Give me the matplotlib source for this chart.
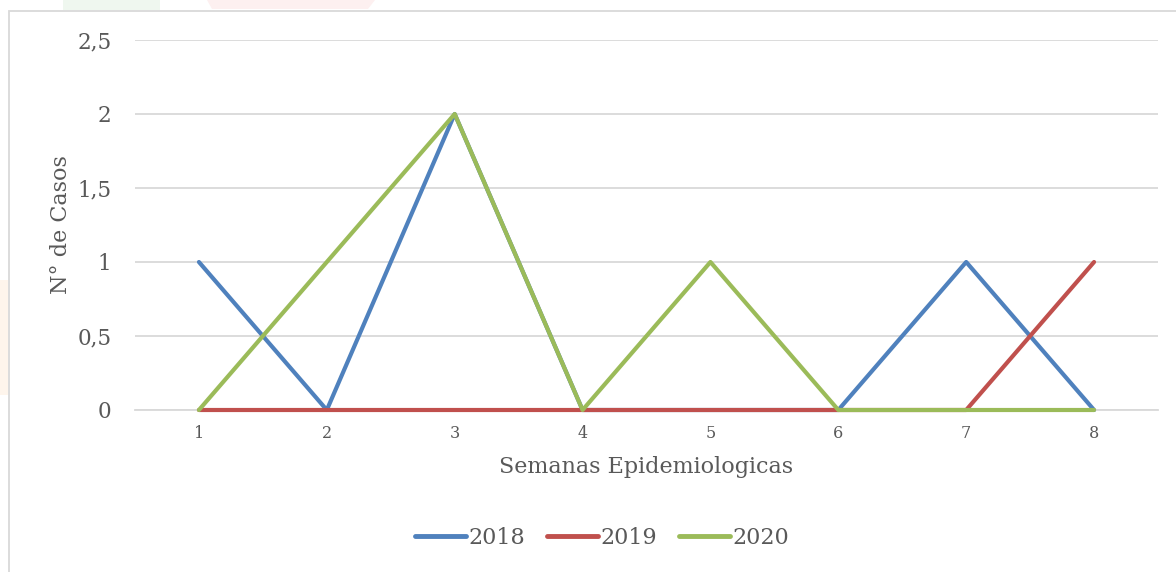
import matplotlib.pyplot as plt
from matplotlib.patches import Rectangle, Polygon

plt.rcParams["font.family"] = "DejaVu Serif"

semanas = [1, 2, 3, 4, 5, 6, 7, 8]
casos_2018 = [1, 0, 2, 0, 0, 0, 1, 0]
casos_2019 = [0, 0, 0, 0, 0, 0, 0, 1]
casos_2020 = [0, 1, 2, 0, 1, 0, 0, 0]
y_ticks = [0, 0.5, 1, 1.5, 2, 2.5]
y_tick_labels = ["0", "0,5", "1", "1,5", "2", "2,5"]

TEXT = "#595959"
GRID = "#D9D9D9"
W, H = 1176, 572

fig = plt.figure(figsize=(W / 100, H / 100), dpi=100)
fig.patch.set_facecolor("white")

# faint watermark bits behind the chart frame
fig.patches.append(Rectangle((63 / W, 1 - 10 / H), 97 / W, 10 / H, lw=0,
                             transform=fig.transFigure, color="#EFF7EF", zorder=0))
fig.patches.append(Polygon([(207 / W, 1), (375 / W, 1), (368 / W, 1 - 9 / H),
                            (212 / W, 1 - 9 / H)], lw=0,
                           transform=fig.transFigure, color="#FDF0F0", zorder=0))
fig.patches.append(Rectangle((0, 1 - 395 / H), 8 / W, 115 / H, lw=0,
                             transform=fig.transFigure, color="#FEF5EC", zorder=0))

# chart frame (left and top edges visible, rest runs off the page)
fig.patches.append(Rectangle((8.5 / W, -0.05), 1.2, 1 - 10.5 / H + 0.05,
                             transform=fig.transFigure, fill=False,
                             edgecolor=GRID, lw=1.3, zorder=1))

ax = fig.add_axes([135 / W, 1 - 410 / H, (1158 - 135) / W, (410 - 40) / H])
ax.set_facecolor("none")

lw = 3.0
for vals, col, lab, z in [(casos_2018, "#4F81BD", "2018", 3),
                          (casos_2019, "#C0504D", "2019", 4),
                          (casos_2020, "#9BBB59", "2020", 5)]:
    ax.plot(semanas, vals, color=col, lw=lw, solid_capstyle="round",
            solid_joinstyle="round", label=lab, zorder=z, clip_on=False)

ax.set_xlim(0.5, 8.5)
ax.set_ylim(0, 2.5)
ax.set_yticks(y_ticks)
ax.set_yticklabels(y_tick_labels)
ax.set_xticks(semanas)
ax.set_xticklabels([str(s) for s in semanas])
ax.tick_params(axis="y", length=0, pad=17, labelsize=15.5, colors=TEXT)
ax.tick_params(axis="x", length=0, pad=11, labelsize=11.5, colors=TEXT)
ax.grid(axis="y", color=GRID, lw=1.3, zorder=1)
ax.set_axisbelow(True)
for side in ["top", "right", "left"]:
    ax.spines[side].set_visible(False)
ax.spines["bottom"].set_color(GRID)
ax.spines["bottom"].set_linewidth(1.3)
ax.spines["bottom"].set_zorder(1)

ax.set_xlabel("Semanas Epidemiologicas", fontsize=16, color=TEXT, labelpad=10)
ax.set_ylabel("N° de Casos", fontsize=16, color=TEXT)
ax.yaxis.set_label_coords(-63 / 1023, 0.5)

leg = fig.legend(loc="center", bbox_to_anchor=(602 / W, 1 - 538 / H), ncol=3,
                 frameon=False, fontsize=16, labelcolor=TEXT, handlelength=2.3,
                 handletextpad=0.1, columnspacing=1.0)
for line in leg.get_lines():
    line.set_linewidth(3.5)
    line.set_solid_capstyle("round")

fig.savefig("out.png", dpi=100, facecolor="white")
